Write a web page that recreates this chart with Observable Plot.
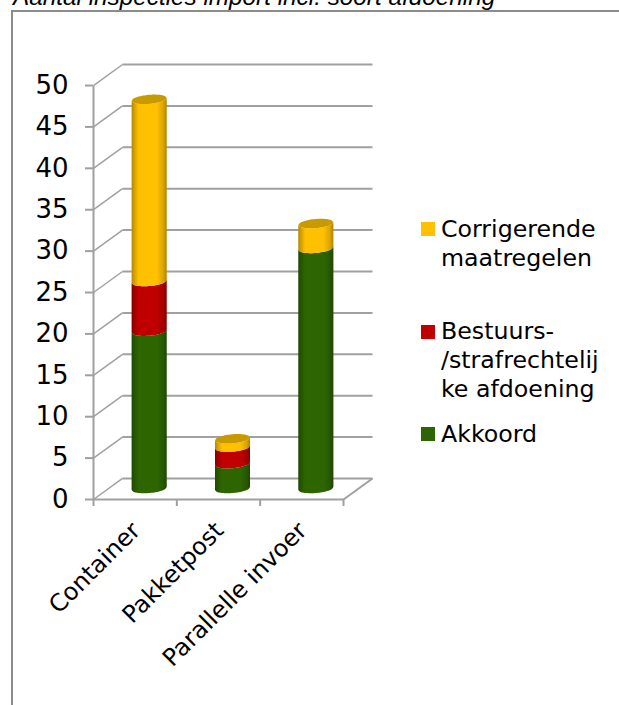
<!DOCTYPE html>
<html><head><meta charset="utf-8">
<script src="https://cdn.jsdelivr.net/npm/d3@7"></script>
<script src="https://cdn.jsdelivr.net/npm/@observablehq/plot@0.6"></script>
<style>
html,body{margin:0;padding:0;background:#fff;overflow:hidden}
#page{position:relative;width:619px;height:705px;overflow:hidden}
#frame{position:absolute;left:11px;top:10px;width:640px;height:720px;border:2px solid #8c8c8c;box-sizing:border-box}
#title{position:absolute;left:13px;top:-17px;font:italic 24.3px "Liberation Sans",Arial,sans-serif;color:#000;white-space:nowrap;line-height:28px}
#chart{position:absolute;left:0;top:0}
.lg{position:absolute;left:441px;font:23.7px/29px "DejaVu Sans",Verdana,sans-serif;color:#000;white-space:pre}
.sw{position:absolute;left:421px;width:14px;height:14px}
</style></head>
<body><div id="page">
<div id="frame"></div>
<div id="title"></div>
<div id="chart"></div>
</div>
<script>
const titleText = "Aantal inspecties import incl. soort afdoening";
const categories = ["Container", "Pakketpost", "Parallelle invoer"];
const akkoord = [19, 3, 29];
const bestuurs = [6, 2, 0];
const corrigerend = [22, 1, 3];
const yTicks = [0, 5, 10, 15, 20, 25, 30, 35, 40, 45, 50];
const seriesNames = ["Akkoord", "Bestuurs-/strafrechtelijke afdoening", "Corrigerende maatregelen"];
const seriesValues = [akkoord, bestuurs, corrigerend];
const seriesColors = ["#2d6600", "#c00000", "#ffc000"];
const capColor = "#c99a00";
const gridColor = "#a0a0a0";
// legend layout: wrapped text as in the reference
const legendRows = [
  {text: "Corrigerende\nmaatregelen", top: 215, sw: 222, color: seriesColors[2]},
  {text: "Bestuurs-\n/strafrechtelij\nke afdoening", top: 317, sw: 325, color: seriesColors[1]},
  {text: "Akkoord", top: 420, sw: 427, color: seriesColors[0]}
];

// oblique projection of the chart box: depth 0 = front, depth 1 = back wall
const depthX = 0.348, depthY = 2.54;
const px = (x, depth) => x + depth * depthX;
const py = (v, depth) => v + depth * depthY;
const halfW = 0.21, ry = 0.55, tilt = 0.17;
const unit = d3.range(-1, 1.0001, 0.08).map(t => Math.max(-1, Math.min(1, t)));

const xMax = categories.length;
const sides = yTicks.map(v => ({x1: px(0, 0), y1: py(v, 0), x2: px(0, 1), y2: py(v, 1)}));
const backs = yTicks.map(v => ({x1: px(0, 1), y1: py(v, 1), x2: px(xMax, 1), y2: py(v, 1)}));
const floor = [
  {x1: px(0, 0), y1: py(0, 0), x2: px(xMax, 0), y2: py(0, 0)},
  {x1: px(xMax, 0), y1: py(0, 0), x2: px(xMax, 1), y2: py(0, 1)}
];
const axisLine = [{x1: 0, y1: 0, x2: 0, y2: 50}];

// cylinder outlines from the stacked values
const bodies = [], caps = [];
categories.forEach((c, i) => {
  let base = 0, top = 0;
  seriesNames.forEach((s, k) => {
    const val = seriesValues[k][i];
    top = base + val;
    if (val > 0) {
      for (const t of unit) {
        const arc = ry * Math.sqrt(1 - t * t);
        bodies.push({id: c + s, series: s, x: px(i + 0.5, 0.5) + halfW * t,
          a: py(base, 0.5) + tilt * t - arc, b: py(top, 0.5) + tilt * t - arc});
      }
    }
    base = top;
  });
  for (const t of unit) {
    const arc = ry * Math.sqrt(1 - t * t);
    caps.push({id: c, x: px(i + 0.5, 0.5) + halfW * t,
      a: py(top, 0.5) + tilt * t - arc, b: py(top, 0.5) + tilt * t + arc});
  }
});

const defs = () => {
  const d = d3.create("svg:defs");
  const g = d.append("linearGradient").attr("id", "shade");
  [[0, .3], [.08, .16], [.2, 0], [.72, 0], [.9, .14], [1, .32]].forEach(([o, a]) =>
    g.append("stop").attr("offset", o).attr("stop-color", "#000").attr("stop-opacity", a));
  return d.node();
};

const fs = 26;
const plot = Plot.plot({
  width: 619, height: 705,
  marginLeft: 93, marginRight: 247, marginTop: 64, marginBottom: 206,
  style: {background: "transparent", fontFamily: '"DejaVu Sans",Verdana,sans-serif', overflow: "visible"},
  x: {domain: [0, px(xMax, 1)], axis: null},
  y: {domain: [0, py(50, 1)], axis: null},
  color: {domain: seriesNames, range: seriesColors},
  marks: [
    defs,
    Plot.link(backs, {x1: "x1", y1: "y1", x2: "x2", y2: "y2", stroke: gridColor, strokeWidth: 2}),
    Plot.link(sides, {x1: "x1", y1: "y1", x2: "x2", y2: "y2", stroke: gridColor, strokeWidth: 1.5}),
    Plot.link(floor, {x1: "x1", y1: "y1", x2: "x2", y2: "y2", stroke: gridColor, strokeWidth: 2}),
    Plot.link(axisLine, {x1: "x1", y1: "y1", x2: "x2", y2: "y2", stroke: gridColor, strokeWidth: 2}),
    Plot.axisY({ticks: yTicks, anchor: "left", tickSize: 8, tickPadding: 17, fontSize: fs, stroke: gridColor, strokeWidth: 2, fill: "#000", label: null, tickFormat: d => d}),
    Plot.axisX({ticks: d3.range(0, xMax + 1), anchor: "bottom", tickSize: 7, tickFormat: () => "", stroke: gridColor, strokeWidth: 2, label: null}),
    Plot.area(bodies, {x1: "x", y1: "a", y2: "b", z: "id", fill: "series"}),
    Plot.area(bodies, {x1: "x", y1: "a", y2: "b", z: "id", fill: "url(#shade)"}),
    Plot.area(caps, {x1: "x", y1: "a", y2: "b", z: "id", fill: capColor}),
    Plot.text(categories, {x: (d, i) => i + 0.5, y: 0, text: d => d, rotate: -45, textAnchor: "end", lineAnchor: "middle", dx: 1, dy: 27, fontSize: 24, fill: "#000"})
  ]
});
document.getElementById("chart").append(plot);
document.getElementById("title").textContent = titleText;
const page = document.getElementById("page");
for (const r of legendRows) {
  const s = document.createElement("div");
  s.className = "sw"; s.style.top = r.sw + "px"; s.style.background = r.color; page.append(s);
  const t = document.createElement("div");
  t.className = "lg"; t.style.top = r.top + "px"; t.textContent = r.text; page.append(t);
}
</script>
</body></html>
